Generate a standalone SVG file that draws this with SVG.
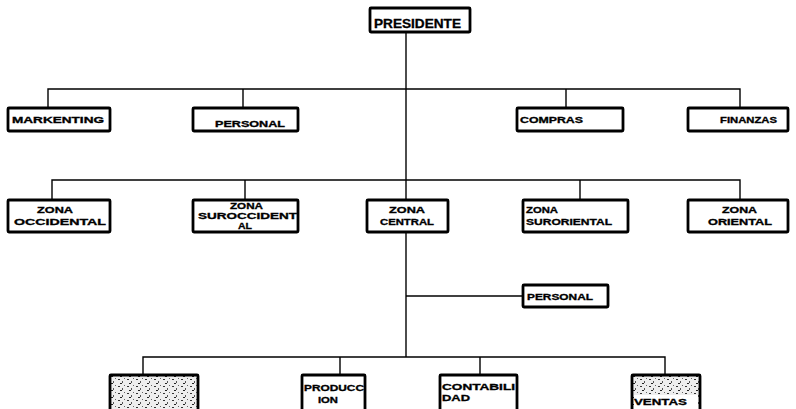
<svg xmlns="http://www.w3.org/2000/svg" width="796" height="409" viewBox="0 0 796 409">
<defs>
<pattern id="noise" width="9" height="7" patternUnits="userSpaceOnUse">
<rect width="9" height="7" fill="#eeeeee"/>
<rect x="1" y="1" width="2" height="1" fill="#333"/>
<rect x="5" y="3" width="1" height="2" fill="#555"/>
<rect x="3" y="5" width="2" height="1" fill="#222"/>
<rect x="7" y="0" width="1" height="1" fill="#666"/>
</pattern>
</defs>
<style>
.box{fill:#fff;stroke:#000;stroke-width:2.8}
.noisy{fill:url(#noise);stroke:#000;stroke-width:2.8}
.ln{fill:none;stroke:#000;stroke-width:1.4}
text{font-family:"Liberation Sans",Arial,sans-serif;font-weight:bold;font-size:8.5px;fill:#000;stroke:#000;stroke-width:0.3}
</style>
<rect width="796" height="409" fill="#fff"/>
<g id="connectors">
<path class="ln" d="M406 32V357"/>
<path class="ln" d="M48 108V89H740V108M243 89V108M566 89V108"/>
<path class="ln" d="M52 200V180H740V200M245 180V200M580 180V200"/>
<path class="ln" d="M406 296H523"/>
<path class="ln" d="M143 375V357H665V375M340 357V375M480 357V375"/>
</g>
<g id="presidente"><rect class="box" x="370" y="8" width="100" height="24" rx="1"/><text x="374" y="28" style="font-size:12px" textLength="87" lengthAdjust="spacingAndGlyphs">PRESIDENTE</text></g>
<g id="markenting"><rect class="box" x="8" y="108" width="102" height="23" rx="1"/><text x="12" y="123" textLength="92" lengthAdjust="spacingAndGlyphs">MARKENTING</text></g>
<g id="personal1"><rect class="box" x="193" y="108" width="105" height="23" rx="1"/><text x="215" y="127" textLength="70" lengthAdjust="spacingAndGlyphs">PERSONAL</text></g>
<g id="compras"><rect class="box" x="517" y="108" width="106" height="23" rx="1"/><text x="520" y="123" textLength="63" lengthAdjust="spacingAndGlyphs">COMPRAS</text></g>
<g id="finanzas"><rect class="box" x="688" y="108" width="100" height="23" rx="1"/><text x="720" y="123" textLength="57" lengthAdjust="spacingAndGlyphs">FINANZAS</text></g>
<g id="zona-occidental"><rect class="box" x="8" y="200" width="102" height="32" rx="1"/><text x="37" y="213" textLength="36" lengthAdjust="spacingAndGlyphs">ZONA</text><text x="14" y="225" textLength="92" lengthAdjust="spacingAndGlyphs">OCCIDENTAL</text></g>
<g id="zona-suroccidental"><rect class="box" x="193" y="200" width="105" height="32" rx="1"/><text x="230" y="209" textLength="33" lengthAdjust="spacingAndGlyphs">ZONA</text><text x="198" y="219" textLength="99" lengthAdjust="spacingAndGlyphs">SUROCCIDENT</text><text x="238" y="229" textLength="14" lengthAdjust="spacingAndGlyphs">AL</text></g>
<g id="zona-central"><rect class="box" x="367" y="200" width="81" height="32" rx="1"/><text x="389" y="213" textLength="36" lengthAdjust="spacingAndGlyphs">ZONA</text><text x="380" y="225" textLength="54" lengthAdjust="spacingAndGlyphs">CENTRAL</text></g>
<g id="zona-suroriental"><rect class="box" x="523" y="200" width="105" height="32" rx="1"/><text x="526" y="213" textLength="32" lengthAdjust="spacingAndGlyphs">ZONA</text><text x="526" y="225" textLength="86" lengthAdjust="spacingAndGlyphs">SURORIENTAL</text></g>
<g id="zona-oriental"><rect class="box" x="688" y="200" width="100" height="32" rx="1"/><text x="722" y="213" textLength="35" lengthAdjust="spacingAndGlyphs">ZONA</text><text x="708" y="225" textLength="64" lengthAdjust="spacingAndGlyphs">ORIENTAL</text></g>
<g id="personal2"><rect class="box" x="523" y="285" width="85" height="22" rx="1"/><text x="527" y="300" textLength="66" lengthAdjust="spacingAndGlyphs">PERSONAL</text></g>
<g id="box-b1"><rect class="noisy" x="110" y="375" width="88" height="36" rx="1"/></g>
<g id="produccion"><rect class="box" x="302" y="375" width="63" height="36" rx="1"/><text x="304" y="391" textLength="60" lengthAdjust="spacingAndGlyphs">PRODUCC</text><text x="318" y="403" textLength="20" lengthAdjust="spacingAndGlyphs">ION</text></g>
<g id="contabilidad"><rect class="box" x="440" y="375" width="77" height="36" rx="1"/><text x="442" y="390" textLength="73" lengthAdjust="spacingAndGlyphs">CONTABILI</text><text x="442" y="401" textLength="28" lengthAdjust="spacingAndGlyphs">DAD</text></g>
<g id="ventas"><rect class="noisy" x="632" y="375" width="68" height="36" rx="1"/><rect x="634" y="395" width="64" height="14" fill="#fff"/><text x="634" y="405" textLength="53" lengthAdjust="spacingAndGlyphs">VENTAS</text></g>
</svg>
